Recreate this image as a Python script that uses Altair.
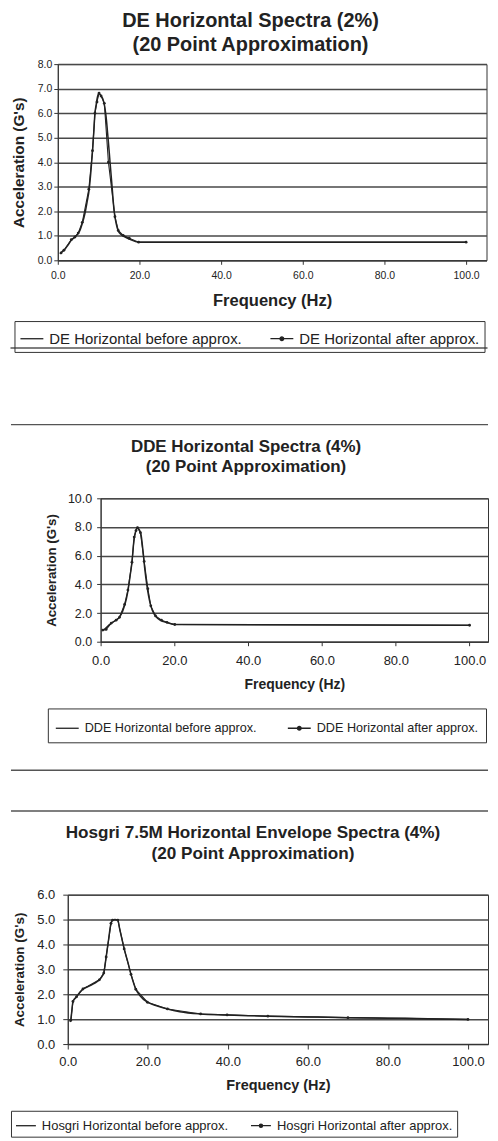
import altair as alt
import pandas as pd

FONT = "Liberation Sans"
INK = "#222222"
GRID = "#484848"
AFTER_PATH = "M-1,0H1M-0.16,0A0.16,0.16,0,1,0,0.16,0A0.16,0.16,0,1,0,-0.16,0"

# ---------------- DE Horizontal (2%) ----------------
de_titles = ["DE Horizontal Spectra (2%)", "(20 Point Approximation)"]
de_series = ["DE Horizontal before approx.", "DE Horizontal after approx."]
de_before_f = [0.5, 0.8, 1.0, 1.6, 2.5, 3.3, 4.2, 5.0, 5.5, 6.0, 6.7, 7.2, 7.7, 8.1, 8.5, 8.8,
               9.1, 9.4, 9.7, 10.0, 10.3, 10.6, 11.0, 11.4, 11.8, 12.3, 12.8, 13.3, 13.8, 14.3,
               14.8, 15.5, 16.5, 17.5, 19.8, 100.0]
de_before_a = [0.27, 0.30, 0.34, 0.42, 0.62, 0.82, 0.95, 1.10, 1.25, 1.50, 1.95, 2.40, 2.90, 3.60,
               4.45, 5.20, 6.00, 6.35, 6.65, 6.80, 6.78, 6.70, 6.60, 6.35, 5.90, 5.00, 4.00, 3.00,
               2.00, 1.50, 1.20, 1.05, 0.95, 0.87, 0.74, 0.74]
de_after_f = [0.8, 1.5, 3.3, 4.2, 5.0, 6.0, 7.6, 8.5, 9.1, 9.6, 10.1, 10.6, 11.4, 12.4, 14.0,
              14.8, 16.0, 17.5, 19.8, 100.0]
de_after_a = [0.30, 0.41, 0.84, 0.95, 1.11, 1.55, 2.90, 4.47, 6.00, 6.46, 6.82, 6.70, 6.40, 4.00,
              1.78, 1.22, 1.02, 0.90, 0.74, 0.74]

# ---------------- DDE Horizontal (4%) ----------------
dde_titles = ["DDE Horizontal Spectra (4%)", "(20 Point Approximation)"]
dde_series = ["DDE Horizontal before approx.", "DDE Horizontal after approx."]
dde_before_f = [0.5, 1.0, 2.0, 3.0, 4.0, 5.0, 6.0, 7.0, 7.5, 8.0, 8.5, 9.0, 9.5, 10.0, 10.5,
                11.0, 11.5, 12.0, 12.5, 13.0, 13.5, 14.0, 15.0, 16.0, 17.0, 18.0, 20.0, 100.0]
dde_before_a = [0.80, 0.86, 1.10, 1.32, 1.48, 1.68, 2.15, 3.00, 3.70, 4.60, 5.55, 7.00, 7.70,
                7.95, 7.80, 7.40, 6.30, 5.00, 4.00, 3.20, 2.60, 2.20, 1.75, 1.52, 1.40, 1.33,
                1.20, 1.15]
dde_after_f = [0.6, 1.5, 2.9, 4.2, 5.1, 6.5, 7.4, 8.5, 9.1, 9.6, 10.0, 10.8, 11.8, 12.8, 13.6,
               14.9, 16.5, 18.0, 20.1, 100.0]
dde_after_a = [0.81, 0.86, 1.30, 1.50, 1.70, 2.60, 3.60, 5.55, 7.30, 7.75, 7.95, 7.60, 5.60,
               3.70, 2.50, 1.80, 1.50, 1.35, 1.20, 1.15]

# ---------------- Hosgri 7.5M Horizontal Envelope (4%) ----------------
hos_titles = ["Hosgri 7.5M Horizontal Envelope Spectra (4%)", "(20 Point Approximation)"]
hos_series = ["Hosgri Horizontal before approx.", "Hosgri Horizontal after approx."]
hos_before_f = [0.5, 0.75, 1.0, 1.3, 1.7, 2.2, 3.0, 3.8, 5.0, 6.0, 7.0, 7.9, 8.5, 9.0, 9.6, 10.2,
                10.8, 11.2, 11.8, 12.5, 13.0, 13.5, 14.1, 15.0, 15.8, 17.0, 18.0, 19.9, 22.0,
                24.9, 28.0, 33.2, 39.8, 45.0, 50.0, 60.0, 70.0, 80.0, 90.0, 100.0]
hos_before_a = [0.90, 0.95, 1.30, 1.71, 1.82, 1.90, 2.08, 2.21, 2.30, 2.38, 2.47, 2.58, 2.70,
                2.85, 3.50, 4.20, 4.85, 4.98, 5.00, 4.98, 4.60, 4.25, 3.82, 3.30, 2.80, 2.20,
                1.95, 1.68, 1.55, 1.41, 1.30, 1.21, 1.17, 1.14, 1.12, 1.09, 1.06, 1.04, 1.02, 0.99]
hos_after_f = [0.75, 1.3, 2.2, 3.8, 7.9, 9.0, 9.6, 10.8, 11.2, 12.5, 14.1, 15.8, 17.0, 19.9,
               24.9, 33.2, 39.8, 50.0, 70.0, 100.0]
hos_after_a = [0.95, 1.71, 1.90, 2.21, 2.58, 2.85, 3.50, 4.85, 4.98, 4.98, 3.82, 2.80, 2.20,
               1.68, 1.41, 1.21, 1.17, 1.12, 1.06, 0.99]

x_ticks = [0, 20, 40, 60, 80, 100]
x_label = "Frequency (Hz)"
y_label = "Acceleration (G's)"

PAGE_LEFT = 11   # left edge of every panel's extent (layout adds ~2px in front)


def panel(titles, series, bf, ba, af, aa, ymax, ystep, g):
    L, T, W, H = g["L"], g["T"], g["W"], g["H"]
    df = pd.DataFrame({
        "f": bf + af,
        "a": ba + aa,
        "series": [series[0]] * len(bf) + [series[1]] * len(af),
    })
    legend = alt.Legend(
        orient="none", legendX=g["lx"] - L, legendY=g["ly"] - T,
        direction="horizontal", title=None,
        strokeColor="#333333", padding=g["lpad"],
        columnPadding=g["lcol"], labelFont=FONT, labelFontSize=g["lfs"],
        labelColor=INK, labelLimit=500, labelOffset=5,
        symbolSize=g["lsym"] ** 2, symbolStrokeWidth=1.3,
    )
    color = alt.Color("series:N", scale=alt.Scale(domain=series, range=[INK, INK]),
                      legend=legend)
    shape = alt.Shape("series:N", scale=alt.Scale(domain=series, range=["stroke", AFTER_PATH]),
                      legend=legend)
    xenc = alt.X("f:Q", scale=alt.Scale(domain=[0, 105], nice=False),
                 axis=alt.Axis(values=x_ticks, format=".1f", grid=False, labelFlush=False,
                               labelFont=FONT, labelFontSize=g["xl"], labelColor=INK,
                               labelPadding=g["xlp"], tickSize=g["tick"], tickColor="#333",
                               domainColor="#333", title=x_label, titleFont=FONT,
                               titleFontSize=g["xt"], titleFontWeight="bold",
                               titleColor=INK, titlePadding=g["xtp"]))
    yenc = alt.Y("a:Q", scale=alt.Scale(domain=[0, ymax], nice=False),
                 axis=alt.Axis(values=list(range(0, ymax + 1, ystep)), format=".1f",
                               grid=True, gridColor=GRID, gridWidth=1.5, labelFlush=False,
                               labelFont=FONT, labelFontSize=g["yl"], labelColor=INK,
                               labelPadding=g["ylp"], tickSize=g["tick"], tickColor="#333",
                               domainColor="#333", title=y_label, titleFont=FONT,
                               titleFontSize=g["yt"], titleFontWeight="bold",
                               titleColor=INK, titlePadding=g["ytp"]))
    base = alt.Chart(df).encode(x=xenc, y=yenc, color=color)
    before = base.transform_filter(alt.datum.series == series[0]).mark_line(
        interpolate="monotone", strokeWidth=1.5)
    after = base.transform_filter(alt.datum.series == series[1]).mark_line(
        strokeWidth=1.1, point=alt.OverlayMarkDef(filled=True, size=8, color=INK))
    # legend-only layer (no rows survive the filter): gives the legend its symbols
    key = base.transform_filter("false").mark_point(filled=False, strokeWidth=1.3).encode(
        shape=shape)

    layers = [before, after, key]
    for txt, ty in zip(titles, g["ty"]):
        layers.append(
            alt.Chart(pd.DataFrame({"t": [txt]})).mark_text(
                font=FONT, fontSize=g["tfs"], fontWeight="bold", color=INK,
                align="center", baseline="alphabetic"
            ).encode(text="t:N", x=alt.value(g["tx"] - L),
                     y=alt.value(ty - T + 0.36 * g["tfs"]))
        )
    for sy in g["seps"]:
        layers.append(
            alt.Chart(pd.DataFrame({"k": [0]})).mark_rule(color="#555555", strokeWidth=1.4)
            .encode(x=alt.value(PAGE_LEFT - L), x2=alt.value(490 - L), y=alt.value(sy - T))
        )
    # invisible extent of this panel on the page
    layers.append(
        alt.Chart(pd.DataFrame({"k": [0]})).mark_rule(opacity=0, strokeWidth=0.1)
        .encode(x=alt.value(PAGE_LEFT - L), y=alt.value(g["bt"] - T),
                y2=alt.value(g["bb"] - T))
    )
    unit = alt.layer(*layers).properties(
        width=W, height=H, view=alt.ViewBackground(stroke="#333333", strokeWidth=1))
    # a 1px invisible spacer in front, so the panel is placed by its full extent
    spacer = alt.Chart(pd.DataFrame({"k": [0]})).mark_rule(opacity=0, strokeWidth=0.1).encode(
        x=alt.value(0), y=alt.value(0), y2=alt.value(1)
    ).properties(width=1, height=1, view=alt.ViewBackground(strokeOpacity=0))
    return alt.hconcat(spacer, unit, spacing=0).resolve_scale(
        color="independent", shape="independent"
    ).resolve_legend(color="independent", shape="independent")


g1 = dict(L=58.5, T=62, W=430.5, H=197, tx=252, ty=[18, 42], tfs=20, bt=11, bb=385,
          seps=[347], lx=15, ly=320, lfs=15, lpad=5, lcol=25, lsym=23,
          tick=4, yl=10.5, ylp=2, yt=15.4, ytp=11, xl=10.5, xlp=6, xt=16.6, xtp=12)
g2 = dict(L=101, T=496, W=389, H=144, tx=247, ty=[443, 463], tfs=17, bt=385, bb=789,
          seps=[422, 769], lx=48, ly=707, lfs=12.7, lpad=7, lcol=28, lsym=23,
          tick=4, yl=12.5, ylp=5, yt=13.3, ytp=9, xl=13, xlp=9, xt=14, xtp=10)
g3 = dict(L=68, T=892, W=422, H=150, tx=254, ty=[829, 850], tfs=17.2, bt=789, bb=1133,
          seps=[808], lx=11, ly=1109, lfs=13, lpad=4, lcol=19, lsym=20,
          tick=5, yl=13, ylp=8, yt=13.5, ytp=10, xl=13, xlp=6.5, xt=14.5, xtp=10)

p1 = panel(de_titles, de_series, de_before_f, de_before_a, de_after_f, de_after_a, 8, 1, g1)
p2 = panel(dde_titles, dde_series, dde_before_f, dde_before_a, dde_after_f, dde_after_a, 10, 2, g2)
p3 = panel(hos_titles, hos_series, hos_before_f, hos_before_a, hos_after_f, hos_after_a, 6, 1, g3)

chart = alt.vconcat(p1, p2, p3, spacing=0, padding=0).resolve_scale(
    color="independent", shape="independent", x="independent", y="independent"
).resolve_legend(color="independent", shape="independent").configure(background="white")

chart.save("out.html", embed_options={"renderer": "svg", "actions": False})
